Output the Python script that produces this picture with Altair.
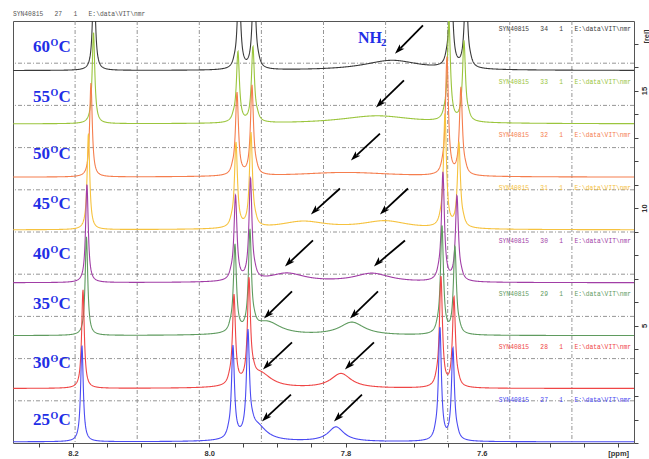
import altair as alt
import numpy as np
import pandas as pd

NB = "\u00a0"

# ---------------- data ----------------
temps = ["60", "55", "50", "45", "40", "35", "30", "25"]
file_numbers = ["34", "33", "32", "31", "30", "29", "28", "27"]
header_number = "27"
trace_colors = ["#3a3a3a", "#9bc53d", "#f57e4e", "#f6c23e", "#a13ea6", "#5f9b5f", "#ef4646", "#4b4bf2"]
offsets = [15.85, 13.58, 11.31, 9.07, 6.82, 4.57, 2.32, 0.05]

singlet_ppm = [8.1692, 8.1699, 8.1736, 8.1773, 8.1795, 8.1802, 8.1853, 8.1868]
singlet_h = [4.3, 3.9, 4.0, 4.1, 4.2, 4.2, 4.2, 4.1]

d1a_ppm = [7.9564, 7.9579, 7.9593, 7.9608, 7.9615, 7.9623, 7.9637, 7.9652]
d1a_h = [4.0, 3.0, 3.5, 3.6, 3.6, 3.7, 3.8, 3.9]
d1b_ppm = [7.9344, 7.9359, 7.9373, 7.9388, 7.9395, 7.9403, 7.9417, 7.9432]
d1b_h = [4.4, 3.2, 3.8, 4.0, 4.3, 4.2, 4.3, 4.3]

d2a_ppm = [7.6453, 7.6483, 7.6512, 7.6541, 7.6571, 7.6585, 7.6600, 7.6615]
d2a_h = [4.8, 4.3, 5.0, 4.8, 4.6, 4.6, 4.7, 4.8]
d2b_ppm = [7.6233, 7.6262, 7.6307, 7.6336, 7.6365, 7.6395, 7.6409, 7.6424]
d2b_h = [3.9, 3.4, 3.7, 3.6, 3.6, 3.7, 3.8, 3.9]

nh_a_ppm = [7.732, 7.754, 7.800, 7.8625, 7.886, 7.915, 7.925, 7.930]
nh_a_h = [0.43, 0.34, 0.20, 0.33, 0.38, 0.55, 0.60, 0.65]
nh_a_w = [0.050, 0.065, 0.090, 0.042, 0.032, 0.024, 0.020, 0.017]
nh_b_ppm = [7.732, 7.754, 7.800, 7.742, 7.761, 7.7906, 7.8067, 7.814]
nh_b_h = [0.0, 0.0, 0.0, 0.35, 0.38, 0.55, 0.62, 0.62]
nh_b_w = [0.050, 0.065, 0.090, 0.042, 0.032, 0.022, 0.018, 0.014]

x_ticks = [7.40, 7.45, 7.50, 7.55, 7.60, 7.65, 7.70, 7.75, 7.80, 7.85,
           7.90, 7.95, 8.00, 8.05, 8.10, 8.15, 8.20, 8.25]
y_ticks = list(range(18))

temp_label_x = 8.2338
temp_label_y = [16.66, 14.53, 12.08, 9.96, 7.83, 5.70, 3.19, 0.76]
file_label_x = 7.381
nh2_x, nh2_y = 7.7818, 17.04

arrow_tail_ppm = [7.6864, 7.7143, 7.7495, 7.8082, 7.7084, 7.8478, 7.7128, 7.8786, 7.7524, 7.8786, 7.7583, 7.8801, 7.7759]
arrow_tail_rel = [17.77, 15.43, 13.17, 10.83, 10.83, 8.62, 8.62, 6.45, 6.45, 4.28, 4.28, 2.06, 2.06]
arrow_tip_ppm = [7.7275, 7.7554, 7.7921, 7.8508, 7.7495, 7.8889, 7.7583, 7.9197, 7.7935, 7.9212, 7.8009, 7.9227, 7.8170]
arrow_tip_rel = [16.57, 14.28, 12.02, 9.72, 9.72, 7.51, 7.51, 5.30, 5.30, 3.13, 3.13, 0.915, 0.915]

X_LEFT, X_RIGHT = 8.288, 7.3767
Y_TOP = 17.96


def file_label(n):
    gap = NB * 3
    return "SYN40815" + gap + n + gap + "1" + gap + "E:\\data\\VIT\\nmr"


# ---------------- build spectra from the read peak parameters ----------------
grid = np.round(np.arange(X_RIGHT, X_LEFT + 1e-9, 0.0005), 5)
frames = []
for i, t in enumerate(temps):
    y = np.full_like(grid, offsets[i])
    peaks = [
        (singlet_ppm[i], singlet_h[i], 0.0023),
        (d1a_ppm[i], d1a_h[i], 0.0026), (d1b_ppm[i], d1b_h[i], 0.0026),
        (d1a_ppm[i] + 0.0065, 0.15, 0.003), (d1b_ppm[i] - 0.0065, 0.15, 0.003),
        (d2a_ppm[i], d2a_h[i], 0.0026), (d2b_ppm[i], d2b_h[i], 0.0026),
        (d2a_ppm[i] + 0.0065, 0.15, 0.003), (d2b_ppm[i] - 0.0065, 0.15, 0.003),
        (nh_a_ppm[i], nh_a_h[i], nh_a_w[i]), (nh_b_ppm[i], nh_b_h[i], nh_b_w[i]),
    ]
    for c, h, g in peaks:
        y = y + h * g * g / ((grid - c) ** 2 + g * g)
    frames.append(pd.DataFrame({"t": t, "ppm": grid, "v": np.round(y, 4)}))
spec = pd.concat(frames, ignore_index=True)

xs = alt.Scale(domain=[X_RIGHT, X_LEFT], reverse=True, nice=False, zero=False)
ys = alt.Scale(domain=[0, Y_TOP], nice=False, zero=False)

x_axis = alt.Axis(
    values=x_ticks,
    labelExpr="abs(datum.value-7.4)<0.001 ? '[ppm]' : (abs(datum.value*5-round(datum.value*5))<0.001 ? format(datum.value,'.1f') : '')",
    grid=False, domain=False, tickSize=4, tickColor="#444", tickWidth=1,
    labelFontSize=7.5, labelFont="Liberation Sans", labelFontWeight="bold",
    labelColor="#333", labelPadding=2, title=None, labelOverlap=False, labelFlush=False,
)
y_axis = alt.Axis(
    orient="right", values=y_ticks,
    labelExpr="datum.value>0 && datum.value%5==0 ? datum.label : ''",
    grid=False, domain=False, tickSize=4, tickColor="#444", tickWidth=1,
    labelAngle=270, labelAlign="center", labelBaseline="top", labelPadding=2,
    labelFontSize=7.5, labelFont="Liberation Sans", labelFontWeight="bold", labelColor="#333",
    labelOverlap=False, labelFlush=False,
    title="[rel]", titleAngle=270, titleAlign="center", titleBaseline="top",
    titleX=8, titleY=15, titleFontSize=7.5, titleFont="Liberation Sans",
    titleFontWeight="bold", titleColor="#333",
)


def X(field):
    return alt.X(field, scale=xs, axis=x_axis)


def Y(field):
    return alt.Y(field, scale=ys, axis=y_axis)


# ---------------- grid ----------------
vgrid = pd.DataFrame({"ppm": [X_LEFT - k * (X_LEFT - X_RIGHT) / 10 for k in range(1, 10)]})
hgrid = pd.DataFrame({"v": [k * Y_TOP / 10 for k in range(1, 10)]})
grid_style = dict(color="#8a8a8a", strokeWidth=0.9, strokeDash=[4, 2, 1, 2])
vg = alt.Chart(vgrid).mark_rule(**grid_style).encode(x=X("ppm:Q"))
hg = alt.Chart(hgrid).mark_rule(**grid_style).encode(y=Y("v:Q"))

layers = [vg, hg]

# ---------------- spectra ----------------
for i, t in enumerate(temps):
    layers.append(
        alt.Chart(spec).transform_filter(alt.datum.t == t)
        .mark_line(strokeWidth=1.1, clip=True, color=trace_colors[i])
        .encode(x=X("ppm:Q"), y=Y("v:Q"))
    )

# ---------------- file labels ----------------
fl = pd.DataFrame({
    "ppm": [file_label_x] * len(temps),
    "v": [o + 1.78 for o in offsets],
    "lab": [file_label(n) for n in file_numbers],
    "col": trace_colors,
})
layers.append(
    alt.Chart(fl).mark_text(align="right", baseline="middle", font="Liberation Mono", fontSize=6.3)
    .encode(x=X("ppm:Q"), y=Y("v:Q"), text="lab:N", color=alt.Color("col:N", scale=None))
)

# ---------------- temperature labels ----------------
tl = pd.DataFrame({"ppm": [temp_label_x] * len(temps), "v": temp_label_y, "num": temps})
lab_color = "#1f2fe6"
layers.append(alt.Chart(tl).mark_text(align="right", baseline="alphabetic", font="Liberation Serif",
                                      fontWeight="bold", fontSize=17, color=lab_color)
              .encode(x=X("ppm:Q"), y=Y("v:Q"), text="num:N"))
layers.append(alt.Chart(tl).mark_text(align="left", baseline="alphabetic", font="Liberation Serif",
                                      fontWeight="bold", fontSize=10, color=lab_color, dx=0.5, dy=-6)
              .encode(x=X("ppm:Q"), y=Y("v:Q"), text=alt.value("O")))
layers.append(alt.Chart(tl).mark_text(align="left", baseline="alphabetic", font="Liberation Serif",
                                      fontWeight="bold", fontSize=17, color=lab_color, dx=8.5)
              .encode(x=X("ppm:Q"), y=Y("v:Q"), text=alt.value("C")))

# ---------------- NH2 label ----------------
nh = pd.DataFrame({"ppm": [nh2_x], "v": [nh2_y]})
layers.append(alt.Chart(nh).mark_text(align="left", baseline="alphabetic", font="Liberation Serif",
                                      fontWeight="bold", fontSize=16, color=lab_color)
              .encode(x=X("ppm:Q"), y=Y("v:Q"), text=alt.value("NH")))
layers.append(alt.Chart(nh).mark_text(align="left", baseline="alphabetic", font="Liberation Serif",
                                      fontWeight="bold", fontSize=10.5, color=lab_color, dx=23, dy=3)
              .encode(x=X("ppm:Q"), y=Y("v:Q"), text=alt.value("2")))

# ---------------- arrows ----------------
ar = pd.DataFrame({
    "x1": arrow_tail_ppm, "y1": arrow_tail_rel,
    "xt": arrow_tip_ppm, "yt": arrow_tip_rel,
})
ar["xe"] = ar["xt"] + 0.2 * (ar["x1"] - ar["xt"])
ar["ye"] = ar["yt"] + 0.2 * (ar["y1"] - ar["yt"])
layers.append(alt.Chart(ar).mark_rule(color="black", strokeWidth=1.8)
              .encode(x=X("x1:Q"), y=Y("y1:Q"), x2="xe:Q", y2="ye:Q"))
layers.append(alt.Chart(ar).mark_point(shape="M0,0 L0.62,1.9 L0,1.45 L-0.62,1.9 Z", filled=True,
                                       color="black", opacity=1, size=112, angle=225, strokeWidth=0)
              .encode(x=X("xt:Q"), y=Y("yt:Q")))

header = "SYN40815" + NB * 3 + header_number + NB * 3 + "1" + NB * 3 + "E:\\data\\VIT\\nmr"
chart = alt.layer(*layers).properties(
    width=621, height=422,
    autosize="none",
    padding={"left": 13, "top": 21, "right": 15, "bottom": 16},
    title=alt.TitleParams(header, anchor="start", frame="group", fontSize=6.3,
                          font="Liberation Mono", fontWeight="normal", color="#555", offset=3),
).configure_view(stroke="#555", strokeWidth=1)

chart.save("out.html", embed_options={"renderer": "svg", "actions": False})
